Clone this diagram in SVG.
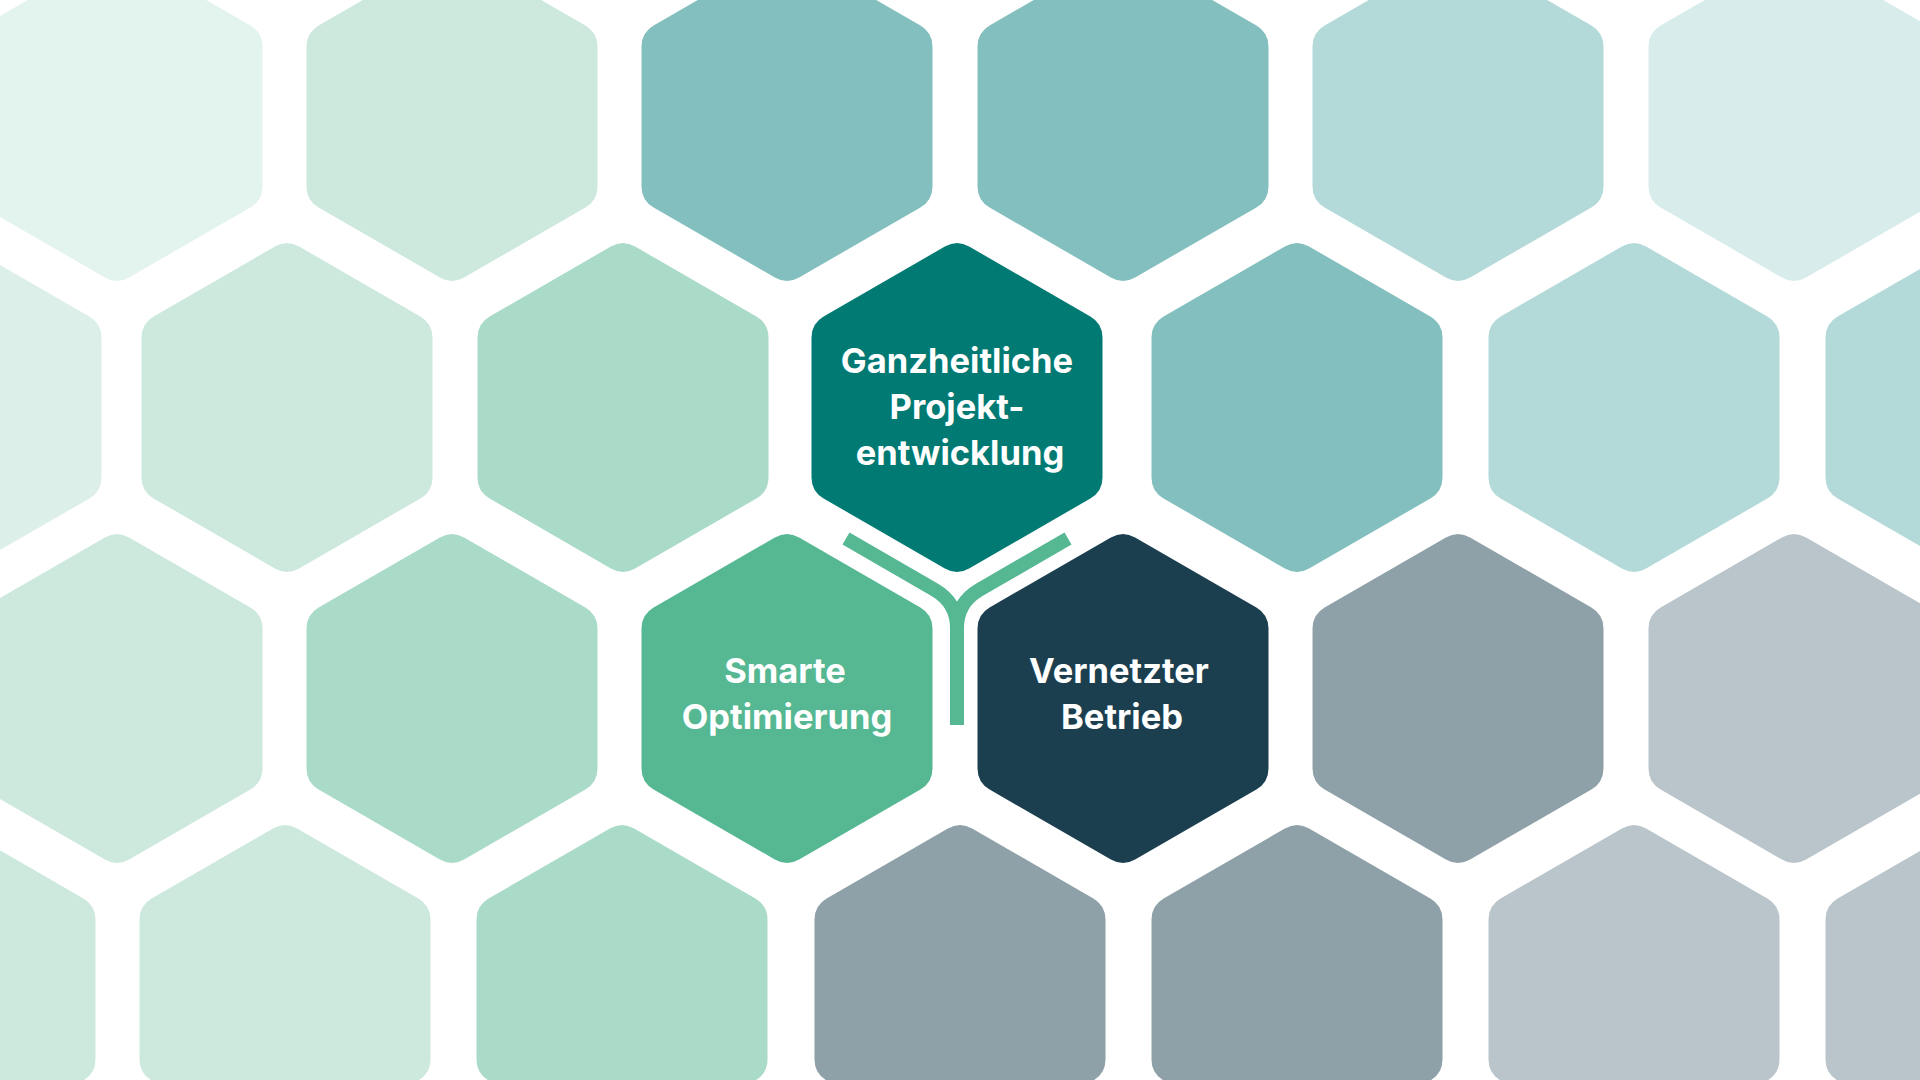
<svg xmlns="http://www.w3.org/2000/svg" width="1920" height="1080" viewBox="0 0 1920 1080">
<style>
.lbl{font-family:Inter,"Liberation Sans",sans-serif;font-weight:700;font-size:34.5px;fill:#ffffff;text-anchor:middle}
.conn{fill:none;stroke:#55b892;stroke-width:14;stroke-linecap:butt;stroke-linejoin:round}
</style>
<defs>
<path id="hex" d="M -12.12,-161 Q 0,-168 12.12,-161 L 133.38,-91 Q 145.5,-84 145.5,-70 L 145.5,70 Q 145.5,84 133.38,91 L 12.12,161 Q 0,168 -12.12,161 L -133.38,91 Q -145.5,84 -145.5,70 L -145.5,-70 Q -145.5,-84 -133.38,-91 Z"/>
</defs>
<rect width="1920" height="1080" fill="#ffffff"/>
<g id="background">
<use id="bg-a1" href="#hex" transform="translate(117,116.5)" fill="#e3f3ee"/>
<use id="bg-a2" href="#hex" transform="translate(452,116.5)" fill="#cde9de"/>
<use id="bg-a3" href="#hex" transform="translate(787,116.5)" fill="#82bfbe"/>
<use id="bg-a4" href="#hex" transform="translate(1123,116.5)" fill="#82bfbe"/>
<use id="bg-a5" href="#hex" transform="translate(1458,116.5)" fill="#b3dad9"/>
<use id="bg-a6" href="#hex" transform="translate(1794,116.5)" fill="#d8ecec"/>
<use id="bg-b1" href="#hex" transform="translate(-44,407.5)" fill="#ddefe9"/>
<use id="bg-b2" href="#hex" transform="translate(287,407.5)" fill="#cde9de"/>
<use id="bg-b3" href="#hex" transform="translate(623,407.5)" fill="#aadbc8"/>
<use id="bg-b5" href="#hex" transform="translate(1297,407.5)" fill="#82bfbe"/>
<use id="bg-b6" href="#hex" transform="translate(1634,407.5)" fill="#b3dad9"/>
<use id="bg-b7" href="#hex" transform="translate(1971,407.5)" fill="#b3dad9"/>
<use id="bg-c1" href="#hex" transform="translate(117,698.5)" fill="#cde9de"/>
<use id="bg-c2" href="#hex" transform="translate(452,698.5)" fill="#aadbc8"/>
<use id="bg-c5" href="#hex" transform="translate(1458,698.5)" fill="#8fa1a8"/>
<use id="bg-c6" href="#hex" transform="translate(1794,698.5)" fill="#b9c5ca"/>
<use id="bg-d1" href="#hex" transform="translate(-50,989.5)" fill="#cde9de"/>
<use id="bg-d2" href="#hex" transform="translate(285,989.5)" fill="#cde9de"/>
<use id="bg-d3" href="#hex" transform="translate(622,989.5)" fill="#aadbc8"/>
<use id="bg-d4" href="#hex" transform="translate(960,989.5)" fill="#8fa1a8"/>
<use id="bg-d5" href="#hex" transform="translate(1297,989.5)" fill="#8fa1a8"/>
<use id="bg-d6" href="#hex" transform="translate(1634,989.5)" fill="#b9c5ca"/>
<use id="bg-d7" href="#hex" transform="translate(1971,989.5)" fill="#b9c5ca"/>
</g>
<g id="connectors">
<path class="conn" d="M 846,538.5 L 935,590 Q 957,603 957,628 L 957,725"/>
<path class="conn" d="M 1068,538.5 L 979,590 Q 957,603 957,628"/>
</g>
<g id="node-projektentwicklung">
<use href="#hex" transform="translate(957,407.5)" fill="#017a74"/>
<text class="lbl" x="957" y="373">Ganzheitliche</text>
<text class="lbl" x="957" y="419">Projekt-</text>
<text class="lbl" x="960" y="465">entwicklung</text>
</g>
<g id="node-optimierung">
<use href="#hex" transform="translate(787,698.5)" fill="#55b892"/>
<text class="lbl" x="785" y="683">Smarte</text>
<text class="lbl" x="787" y="729">Optimierung</text>
</g>
<g id="node-betrieb">
<use href="#hex" transform="translate(1123,698.5)" fill="#1c3f50"/>
<text class="lbl" x="1119" y="683">Vernetzter</text>
<text class="lbl" x="1122" y="729">Betrieb</text>
</g>
</svg>
